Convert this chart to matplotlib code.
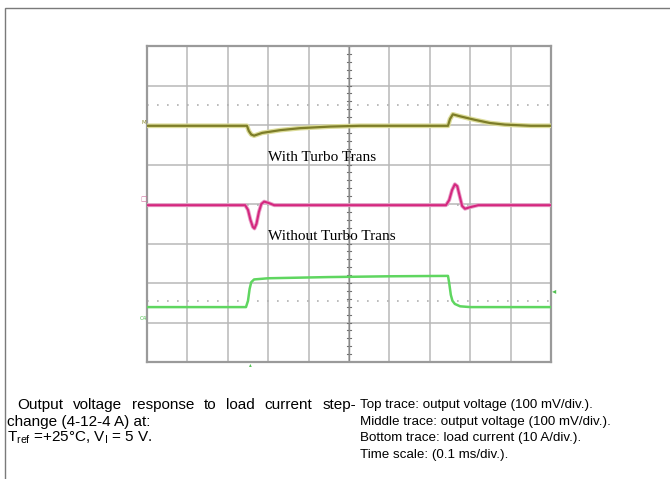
import matplotlib.pyplot as plt
from matplotlib.patches import Rectangle
import numpy as np

plt.rcParams['mathtext.default'] = 'regular'

# time in ms (0.1 ms/div), amplitude in scope divisions
top_t = [0, 0.2475, 0.252, 0.258, 0.265, 0.285, 0.33, 0.379, 0.453, 0.527, 0.60,
         0.745, 0.750, 0.757, 0.775, 0.812, 0.849, 0.886, 0.95, 1.0]
top_v = [5.98, 5.98, 5.85, 5.76, 5.73, 5.80, 5.87, 5.92, 5.96, 5.98, 5.98,
         5.98, 6.15, 6.27, 6.22, 6.13, 6.05, 6.01, 5.98, 5.98]

mid_t = [0, 0.243, 0.250, 0.256, 0.262, 0.266, 0.271, 0.277, 0.283, 0.29, 0.30,
         0.315, 0.740, 0.748, 0.755, 0.762, 0.768, 0.774, 0.780, 0.787, 0.80,
         0.82, 1.0]
mid_v = [3.97, 3.97, 3.85, 3.60, 3.42, 3.38, 3.50, 3.80, 4.00, 4.06, 4.03,
         3.97, 3.97, 4.10, 4.35, 4.50, 4.45, 4.20, 3.95, 3.88, 3.92,
         3.97, 3.97]

bot_t = [0, 0.245, 0.250, 0.254, 0.258, 0.265, 0.30, 0.45, 0.60, 0.745,
         0.748, 0.752, 0.756, 0.762, 0.775, 0.80, 1.0]
bot_v = [1.39, 1.39, 1.55, 1.85, 2.02, 2.09, 2.12, 2.15, 2.17, 2.18,
         2.00, 1.70, 1.55, 1.47, 1.41, 1.39, 1.39]

ref_levels = [6.5, 3.97, 1.55]

left_first = ["Output", "voltage", "response", "to", "load", "current", "step-"]
left_lines = ["change (4-12-4 A) at:",
              r"T$_{ref}$ =+25°C, V$_{I}$ = 5 V."]
right_lines = ["Top trace: output voltage (100 mV/div.).",
               "Middle trace: output voltage (100 mV/div.).",
               "Bottom trace: load current (10 A/div.).",
               "Time scale: (0.1 ms/div.)."]

W, H = 670, 479
FS_L = 11
FS_R = 9.6
fig = plt.figure(figsize=(6.7, 4.79), dpi=100)

# outer frame of the page
fig.patches.append(Rectangle((5 / W, -0.01), 1.0, 1 - 8 / H + 0.01,
                             transform=fig.transFigure, fill=False,
                             edgecolor='#7a7a7a', lw=1.0))

ax = fig.add_axes([147 / W, 1 - 362 / H, 404 / W, 316 / H])
ax.set_xlim(0, 1.0)
ax.set_ylim(0, 8)
ax.set_xticks([])
ax.set_yticks([])
for s in ax.spines.values():
    s.set_color('#9a9a9a')
    s.set_linewidth(1.6)

# graticule
for i in range(1, 10):
    ax.axvline(i * 0.1, color='#b8b8b8', lw=1.1, zorder=1)
for j in range(1, 8):
    ax.axhline(j, color='#b8b8b8', lw=1.1, zorder=1)
# minor ticks on the vertical centre line
for k in np.arange(0, 8.01, 0.2):
    ax.plot([0.496, 0.504], [k, k], color='#707070', lw=0.8, zorder=2)
ax.axvline(0.5, color='#8a8a8a', lw=1.0, zorder=2)

for lv in ref_levels:
    ax.axhline(lv, color='#b0b0b0', lw=1.2, ls=(0, (1, 5)), zorder=2)

ax.plot(top_t, top_v, color='#dcdc9a', lw=3.4, zorder=3, solid_joinstyle='round')
ax.plot(top_t, top_v, color='#7d7d28', lw=1.6, zorder=4, solid_joinstyle='round')
ax.plot(mid_t, mid_v, color='#e9a0c8', lw=2.8, zorder=3, solid_joinstyle='round')
ax.plot(mid_t, mid_v, color='#d4287f', lw=1.5, zorder=4, solid_joinstyle='round')
ax.plot(bot_t, bot_v, color='#5fd660', lw=1.8, zorder=4, solid_joinstyle='round')

ax.text(0.30, 5.08, "With Turbo Trans", family='Liberation Serif',
        fontsize=11, color='black', zorder=5)
ax.text(0.30, 3.1, "Without Turbo Trans", family='Liberation Serif',
        fontsize=11, color='black', zorder=5)

# channel markers
fig.text(141 / W, 1 - 123 / H, "M", fontsize=4, color='#8a8a30', va='center')
fig.text(140 / W, 1 - 199 / H, "□", fontsize=5, color='#d070a0', va='center')
fig.text(140 / W, 1 - 318 / H, "C4", fontsize=4, color='#50c050', va='center')
fig.text(552 / W, 1 - 291 / H, "◂", fontsize=6, color='#50c050', va='center')
fig.text(249 / W, 1 - 365 / H, "▴", fontsize=4, color='#50c050', va='center')

# caption text
ys = [405, 422, 438, 455]
renderer = fig.canvas.get_renderer()
words = [fig.text(0, 1 - ys[0] / H, w, family='Liberation Sans', fontsize=FS_L,
                  va='center') for w in left_first]
widths = [t.get_window_extent(renderer).width for t in words]
x0, x1 = 17.0, 356.0
gap = (x1 - x0 - sum(widths)) / (len(words) - 1)
x = x0
for t, w in zip(words, widths):
    t.set_x(x / W)
    x += w + gap
for i, s in enumerate(left_lines):
    fig.text(7 / W, 1 - ys[i + 1] / H, s, family='Liberation Sans', fontsize=FS_L,
             va='center')
for i, s in enumerate(right_lines):
    fig.text(360 / W, 1 - ys[i] / H, s, family='Liberation Sans', fontsize=FS_R,
             va='center')

fig.savefig("out.png", dpi=100)
